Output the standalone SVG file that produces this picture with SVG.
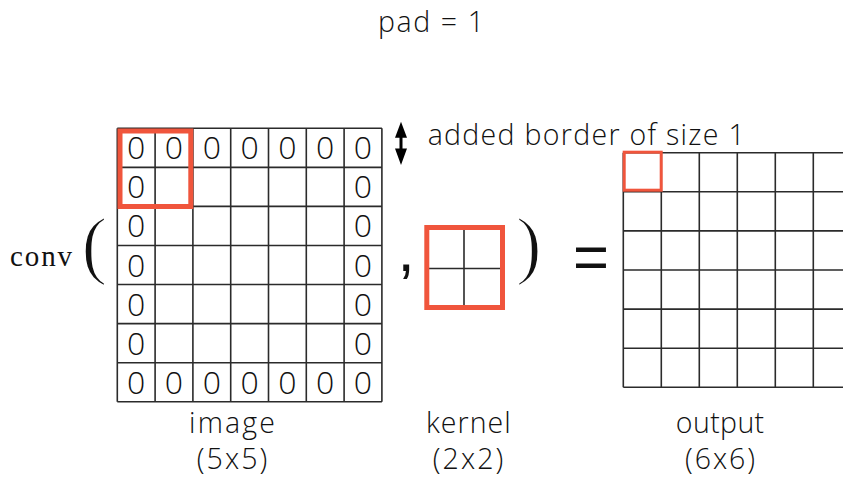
<svg xmlns="http://www.w3.org/2000/svg" width="843" height="482" viewBox="0 0 843 482">
  <style>
    .grid { fill: none; stroke: #2b2b2b; stroke-width: 1.6; }
    .red { fill: none; stroke: #f0553c; }
    .zero { font-family: "Open Sans", "Liberation Sans", sans-serif; font-weight: 300; font-size: 32px; fill: #111; text-anchor: middle; }
    .lbl { font-family: "Open Sans", "Liberation Sans", sans-serif; font-weight: 300; font-size: 28.5px; fill: #111; }
    .mid { text-anchor: middle; }
    .serif { font-family: "Liberation Serif", serif; fill: #111; }
    .paren { stroke: #fff; stroke-width: 1.6; }
    .op { font-family: "Liberation Sans", sans-serif; fill: #111; }
  </style>
  <rect width="843" height="482" fill="#fff"/>

  <g id="title">
    <text class="lbl mid" x="431" y="32" textLength="106">pad = 1</text>
  </g>

  <g id="conv-label">
    <text class="serif" x="10" y="266" font-size="29" textLength="62">conv</text>
    <text class="serif paren" x="81.5" y="269.5" font-size="77">(</text>
    <text class="op" x="397.6" y="271.4" font-size="62">,</text>
    <text class="serif paren" x="516" y="269.5" font-size="77">)</text>
    <text class="op" x="573" y="279" font-size="63" textLength="36" lengthAdjust="spacingAndGlyphs">=</text>
  </g>

  <g id="image">
    <path class="grid" d="M117.3 128.3V401.7M155.1 128.3V401.7M192.9 128.3V401.7M230.7 128.3V401.7M268.5 128.3V401.7M306.3 128.3V401.7M344.1 128.3V401.7M381.9 128.3V401.7M117.3 128.3H381.9M117.3 167.4H381.9M117.3 206.4H381.9M117.3 245.5H381.9M117.3 284.5H381.9M117.3 323.6H381.9M117.3 362.7H381.9M117.3 401.7H381.9"/>
    <g>
      <text class="zero" x="136.2" y="159.3">0</text>
      <text class="zero" x="174" y="159.3">0</text>
      <text class="zero" x="211.8" y="159.3">0</text>
      <text class="zero" x="249.6" y="159.3">0</text>
      <text class="zero" x="287.4" y="159.3">0</text>
      <text class="zero" x="325.2" y="159.3">0</text>
      <text class="zero" x="363" y="159.3">0</text>
      <text class="zero" x="136.2" y="198.4">0</text>
      <text class="zero" x="363" y="198.4">0</text>
      <text class="zero" x="136.2" y="237.4">0</text>
      <text class="zero" x="363" y="237.4">0</text>
      <text class="zero" x="136.2" y="276.5">0</text>
      <text class="zero" x="363" y="276.5">0</text>
      <text class="zero" x="136.2" y="315.5">0</text>
      <text class="zero" x="363" y="315.5">0</text>
      <text class="zero" x="136.2" y="354.6">0</text>
      <text class="zero" x="363" y="354.6">0</text>
      <text class="zero" x="136.2" y="393.7">0</text>
      <text class="zero" x="174" y="393.7">0</text>
      <text class="zero" x="211.8" y="393.7">0</text>
      <text class="zero" x="249.6" y="393.7">0</text>
      <text class="zero" x="287.4" y="393.7">0</text>
      <text class="zero" x="325.2" y="393.7">0</text>
      <text class="zero" x="363" y="393.7">0</text>
    </g>
    <rect class="red" x="120" y="131" width="70.8" height="75.5" stroke-width="5"/>
    <text class="lbl mid" x="232" y="433" textLength="86">image</text>
    <text class="lbl mid" x="232" y="469" textLength="70.6">(5x5)</text>
  </g>

  <g id="kernel">
    <path class="grid" d="M464 227.5V307.5M426.8 268.5H502.5"/>
    <rect class="red" x="426.8" y="227.5" width="75.7" height="80" stroke-width="5"/>
    <text class="lbl mid" x="468.3" y="433" textLength="84.7">kernel</text>
    <text class="lbl mid" x="468" y="469" textLength="70.6">(2x2)</text>
  </g>

  <g id="output">
    <path class="grid" d="M623.3 152.7V387.3M661.3 152.7V387.3M699.3 152.7V387.3M737.3 152.7V387.3M775.3 152.7V387.3M813.3 152.7V387.3M623.3 152.7H843M623.3 191.8H843M623.3 230.9H843M623.3 270H843M623.3 309.1H843M623.3 348.2H843M623.3 387.3H843"/>
    <rect class="red" x="624.2" y="152.2" width="37" height="38" stroke-width="3"/>
    <text class="lbl mid" x="720" y="433" textLength="88.3">output</text>
    <text class="lbl mid" x="720" y="469" textLength="70">(6x6)</text>
  </g>

  <g id="connectors">
    <polygon points="401,121.7 407,137.7 402.5,137.7 402.5,148.5 407,148.5 401,165 395,148.5 399.5,148.5 399.5,137.7 395,137.7" fill="#000"/>
  </g>

  <g id="border-note">
    <text class="lbl" x="427.7" y="145" textLength="317">added border of size 1</text>
  </g>
</svg>
